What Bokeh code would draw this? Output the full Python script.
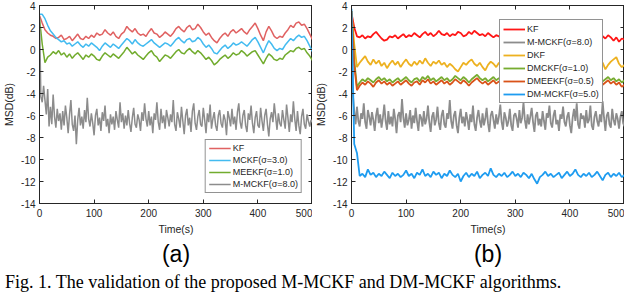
import numpy as np
from bokeh.plotting import figure
from bokeh.models import LinearAxis, FixedTicker, Legend, LegendItem, Title, Div, Range1d
from bokeh.layouts import row, column
from bokeh.embed import file_html
from bokeh.resources import INLINE

# ---------------- data ----------------
x_ticks = [0, 100, 200, 300, 400, 500]
y_ticks = [-14, -12, -10, -8, -6, -4, -2, 0, 2, 4]
y_tick_labels = ["-14", "-12", "-10", "-8", "-6", "-4", "-2", "0", "2", "4"]
x_tick_labels = ["0", "100", "200", "300", "400", "500"]

# panel (a), sampled every 5 s
a_kf = [3.1, 2.4, 1.8, 1.5, 1.3, 1.2, 1.0, 1.1, 1.3, 0.9,
        1.0, 1.2, 0.8, 1.1, 1.4, 1.0, 0.9, 1.2, 1.0, 1.3,
        1.1, 1.5, 1.3, 1.4, 1.8, 1.5, 1.3, 1.6, 1.2, 1.0,
        1.4, 1.6, 2.1, 1.8, 1.6, 1.9, 1.5, 1.3, 1.4, 1.2,
        1.6, 1.9, 1.5, 1.4, 1.1, 1.3, 1.6, 1.4, 1.2, 1.5,
        1.9, 2.1, 1.8, 1.6, 2.0, 2.2, 1.8, 1.9, 2.3, 2.0,
        1.6, 1.3, 1.5, 1.1, 0.8, 0.6, 1.0, 1.3, 1.5, 1.2,
        1.6, 1.8, 1.5, 1.7, 1.9, 1.6, 1.4, 1.8, 2.1, 2.4,
        1.9, 1.3, 0.8, 1.6, 2.1, 1.7, 1.2, 1.0, 1.2, 1.1,
        1.5, 1.8, 2.2, 2.0, 2.4, 2.5, 2.2, 2.3, 1.9, 1.4,
        0.9]
a_mckf = [3.2, 3.2, 2.8, 2.2, 1.7, 1.4, 1.1, 0.9, 0.7, 0.8,
          0.5, 0.6, 0.3, 0.5, 0.7, 0.4, 0.2, 0.5, 0.3, 0.6,
          0.4, 0.2, -0.1, 0.3, 0.6, 0.4, 0.2, 0.5, 0.3, 0.1,
          0.4, 0.7, 1.0, 0.8, 0.5, 0.9, 0.6, 0.4, 0.3, 0.5,
          0.7, 0.9, 0.6, 0.4, 0.2, 0.4, 0.6, 0.5, 0.3, 0.6,
          0.9, 1.1, 0.8, 0.6, 0.9, 1.0, 0.7, 0.8, 1.1, 0.9,
          0.5, 0.2, 0.4, 0.1, -0.3, -0.4, -0.1, 0.2, 0.4, 0.1,
          0.3, 0.6, 0.4, 0.5, 0.7, 0.5, 0.3, 0.6, 0.9, 1.1,
          0.7, 0.2, -0.3, 0.3, 0.8, 0.5, 0.1, -0.1, 0.1, 0.0,
          0.4, 0.7, 1.0, 0.8, 1.1, 1.3, 1.1, 1.2, 0.8, 0.3,
          -0.2]
a_meekf = [2.8, 0.5, -1.2, -0.7, -0.5, -0.2, -0.4, -0.1, -0.5, -0.3,
           -0.7, -0.4, -0.8, -0.5, -0.3, -0.6, -0.9, -0.5, -0.7, -0.4,
           -0.6, -0.9, -1.0, -0.6, -0.3, -0.5, -0.7, -0.4, -0.6, -0.8,
           -0.5, -0.2, 0.2, -0.1, -0.4, -0.2, -0.5, -0.7, -0.9, -0.6,
           -0.3, -0.1, -0.5, -0.7, -1.1, -0.8, -0.5, -0.6, -0.8, -0.5,
           -0.2, 0.0, -0.3, -0.4, -0.1, 0.1, -0.2, -0.4, -0.1, -0.3,
           -0.6, -0.9, -0.7, -1.0, -1.4, -1.2, -0.9, -0.7, -0.5, -0.8,
           -0.6, -0.3, -0.5, -0.4, -0.1, -0.3, -0.6, -0.4, -0.2, -0.1,
           -0.5, -0.9, -1.3, -0.8, -0.4, -0.6, -0.9, -1.0, -0.8, -0.9,
           -0.5, -0.3, -0.1, -0.2, 0.1, 0.2, 0.0, 0.1, -0.3, -0.6,
           -1.0]
# sampled every 2.5 s
a_mmckf = [3.0, -4.3, -4.8, -3.3, -4.6, -5.9, -3.6, -7.0, -5.2, -6.8,
           -4.1, -6.1, -7.1, -5.4, -6.5, -5.8, -7.3, -5.6, -6.9, -5.1,
           -6.2, -7.6, -5.9, -4.6, -6.8, -7.4, -6.0, -8.6, -6.4, -5.3,
           -6.9, -6.1, -7.2, -5.5, -6.6, -4.4, -6.3, -7.0, -5.8, -6.7,
           -7.8, -6.0, -5.4, -6.9, -6.2, -7.4, -5.7, -6.5, -5.1, -7.0,
           -6.3, -7.6, -5.9, -6.8, -6.1, -7.3, -5.6, -6.4, -7.1, -4.8,
           -6.6, -5.8, -7.2, -6.0, -6.9, -5.5, -6.7, -7.5, -6.2, -5.3,
           -6.8, -7.1, -5.9, -6.4, -7.4, -5.7, -6.5, -4.9, -6.3, -7.0,
           -5.6, -6.9, -6.1, -7.6, -5.8, -6.4, -4.8, -6.6, -7.3, -5.4,
           -6.7, -6.0, -7.2, -5.5, -6.2, -7.0, -5.9, -6.6, -4.6, -6.8,
           -7.4, -5.7, -6.3, -7.1, -5.2, -6.5, -7.7, -6.0, -5.4, -6.9,
           -6.2, -7.5, -5.6, -4.9, -6.7, -7.3, -6.1, -5.5, -6.8, -7.0,
           -5.3, -6.4, -7.6, -5.8, -6.6, -5.0, -7.2, -6.3, -5.7, -6.9,
           -7.4, -6.0, -5.5, -6.7, -7.1, -5.9, -6.4, -7.8, -5.6, -6.2,
           -7.0, -5.4, -6.8, -6.1, -7.3, -5.7, -4.9, -6.6, -7.2, -6.0,
           -5.5, -6.9, -7.5, -5.8, -6.4, -5.1, -6.7, -7.6, -6.2, -5.6,
           -6.9, -7.1, -5.3, -6.5, -7.4, -6.0, -5.4, -6.8, -7.9, -6.3,
           -5.7, -6.6, -4.9, -6.1, -7.3, -5.8, -6.7, -7.0, -5.5, -6.4,
           -7.2, -5.0, -6.2, -7.5, -5.9, -6.6, -4.7, -6.3, -7.4, -5.6,
           -6.9, -7.7, -6.1, -5.4, -6.8, -7.2, -5.9, -6.5, -7.0, -6.4,
           -6.6]

# panel (b), sampled every 5 s
b_kf = [3.3, 2.0, 1.2, 1.1, 1.3, 1.0, 1.2, 1.1, 1.4, 1.6,
        1.3, 1.0, 0.8, 0.9, 1.2, 1.1, 1.3, 1.0, 1.2, 1.4,
        1.1, 1.3, 1.2, 1.5, 1.3, 1.1, 1.4, 1.6, 1.3, 1.5,
        1.2, 1.4, 1.7, 1.4, 1.3, 1.5, 1.2, 1.4, 1.3, 1.6,
        1.5, 1.2, 1.3, 1.6, 1.4, 1.7, 1.5, 1.3, 1.4, 1.2,
        1.5, 1.3, 1.1, 1.3, 1.2, 1.0, 1.2, 1.4, 1.1, 1.3,
        1.2, 1.5, 1.3, 1.1, 1.4, 1.2, 1.0, 1.3, 1.2, 1.5,
        1.3, 1.1, 1.2, 1.4, 1.3, 1.1, 1.3, 1.5, 1.2, 1.0,
        1.3, 1.6, 1.2, 1.4, 1.1, 1.3, 1.5, 1.2, 1.0, 1.3,
        1.1, 1.5, 1.2, 1.0, 1.3, 1.1, 0.8, 1.1, 0.7, 1.0,
        0.9]
b_dkf = [3.5, 0.5, -1.6, -1.2, -0.9, -0.6, -1.1, -1.4, -0.9, -1.3,
         -1.0, -1.5, -1.2, -1.7, -1.3, -1.0, -1.4, -1.1, -1.6, -1.2,
         -0.9, -1.3, -1.5, -1.1, -1.4, -1.0, -1.3, -0.8, -1.2, -1.5,
         -1.1, -1.3, -1.0, -1.4, -1.2, -1.6, -1.3, -1.5, -1.8, -2.0,
         -1.6, -1.2, -1.4, -1.1, -0.9, -1.3, -1.5, -1.2, -1.6, -1.9,
         -1.4, -1.1, -1.3, -1.6, -1.2, -1.5, -1.0, -1.3, -1.1, -1.5,
         -1.2, -1.4, -1.0, -1.3, -1.6, -1.2, -1.5, -1.1, -1.4, -1.7,
         -1.3, -1.0, -1.4, -1.2, -1.6, -1.3, -1.1, -1.5, -1.2, -1.7,
         -1.4, -1.1, -1.5, -1.3, -1.0, -1.4, -1.2, -1.6, -1.1, -0.8,
         -1.3, -1.5, -1.2, -1.8, -1.4, -1.1, -0.9, -0.7, -1.3, -1.6,
         -1.4]
b_dmckf = [3.5, -1.0, -3.4, -3.0, -2.7, -2.9, -2.6, -2.8, -3.0, -2.7,
           -2.5, -2.8, -2.6, -2.9, -2.7, -3.0, -2.8, -2.6, -2.9, -2.7,
           -2.5, -2.8, -3.0, -2.7, -2.6, -2.9, -2.5, -2.7, -2.4, -2.8,
           -2.6, -2.9, -2.7, -2.5, -2.8, -2.6, -2.9, -2.7, -2.4, -2.6,
           -2.8, -2.5, -2.7, -3.0, -2.7, -2.5, -2.3, -2.6, -2.8, -2.6,
           -2.9, -2.7, -2.5, -2.8, -2.6, -2.9, -2.7, -2.5, -2.8, -2.6,
           -2.4, -2.7, -2.9, -2.6, -2.8, -2.5, -2.7, -3.0, -2.7, -2.5,
           -2.8, -2.6, -2.9, -2.7, -2.5, -2.8, -2.6, -2.9, -2.7, -2.5,
           -2.8, -2.6, -2.4, -2.7, -2.9, -2.6, -2.8, -2.5, -2.7, -3.0,
           -2.8, -2.6, -2.9, -2.7, -2.5, -2.8, -2.6, -2.9, -2.7, -3.0,
           -2.8]
b_dmeekf = [3.5, -1.4, -3.7, -3.3, -3.0, -3.2, -2.9, -3.1, -3.4, -3.0,
            -2.8, -3.1, -2.9, -3.2, -3.0, -3.3, -3.1, -2.9, -3.2, -3.0,
            -2.8, -3.1, -3.3, -3.0, -2.9, -3.2, -2.8, -3.0, -2.7, -3.1,
            -2.9, -3.2, -3.0, -2.8, -3.1, -2.9, -3.2, -3.0, -2.7, -2.9,
            -3.1, -2.8, -3.0, -3.3, -3.0, -2.8, -2.6, -2.9, -3.1, -2.9,
            -3.2, -3.0, -2.8, -3.1, -2.9, -3.2, -3.0, -2.8, -3.1, -2.9,
            -2.7, -3.0, -3.2, -2.9, -3.1, -2.8, -3.0, -3.3, -3.0, -2.8,
            -3.1, -2.9, -3.2, -3.0, -2.8, -3.1, -2.9, -3.2, -3.0, -2.8,
            -3.1, -2.9, -2.7, -3.0, -3.2, -2.9, -3.1, -2.8, -3.0, -3.3,
            -3.1, -2.9, -3.2, -3.0, -2.8, -3.1, -2.9, -3.2, -3.0, -3.4,
            -3.2]
b_dmmckf = [3.7, -8.6, -9.4, -11.5, -11.3, -11.6, -10.9, -11.4, -11.2, -11.6,
            -11.3, -11.5, -11.1, -11.4, -11.7, -11.2, -11.5, -11.3, -11.6, -11.4,
            -11.0, -11.5, -11.3, -11.7, -11.2, -11.4, -10.9, -11.5, -11.3, -11.6,
            -11.1, -11.4, -11.2, -11.7, -11.3, -11.5, -11.0, -11.4, -11.6, -11.3,
            -12.0, -11.5, -11.2, -11.6, -11.3, -11.5, -11.1, -11.7, -11.4, -11.2,
            -11.5, -10.8, -11.4, -11.6, -11.3, -11.5, -11.2, -11.6, -11.4, -11.1,
            -11.5, -11.3, -11.6, -11.2, -11.4, -11.7, -11.3, -11.8, -12.2, -11.6,
            -11.4, -11.1, -11.5, -11.3, -11.6, -11.4, -11.2, -11.7, -11.4, -11.1,
            -11.5, -11.3, -10.9, -11.4, -11.6, -11.3, -11.5, -11.2, -11.6, -11.4,
            -11.1, -11.5, -11.9, -11.4, -11.2, -11.6, -11.3, -11.5, -11.2, -11.6,
            -11.4]
# sampled every 2.5 s
b_mmckf = [3.2, -4.1, -5.6, -6.8, -5.2, -6.5, -7.0, -5.8, -6.3, -4.9,
           -6.6, -7.2, -5.5, -6.1, -6.9, -5.7, -6.4, -7.4, -6.0, -5.3,
           -6.7, -5.9, -7.1, -6.2, -5.0, -6.5, -7.3, -5.6, -6.8, -6.1,
           -7.0, -5.4, -6.3, -7.6, -6.0, -5.7, -6.6, -4.5, -6.2, -7.1,
           -5.8, -6.9, -6.4, -5.5, -7.2, -6.0, -6.7, -5.3, -6.5, -7.4,
           -5.9, -6.2, -7.0, -5.6, -6.8, -6.3, -5.1, -6.6, -7.5, -6.1,
           -5.7, -6.9, -6.4, -5.2, -6.7, -7.3, -6.0, -5.5, -6.8, -7.1,
           -5.8, -6.3, -4.6, -6.5, -7.2, -6.0, -5.6, -6.9, -7.6, -6.2,
           -5.4, -6.7, -6.1, -7.0, -5.7, -6.4, -7.3, -5.9, -6.6, -5.1,
           -6.8, -7.4, -6.2, -5.5, -6.5, -7.1, -5.8, -6.9, -6.3, -5.3,
           -6.7, -7.5, -6.0, -5.6, -6.4, -7.2, -5.9, -6.8, -6.1, -5.0,
           -6.6, -7.3, -5.7, -6.2, -7.0, -6.5, -5.4, -6.9, -7.4, -6.0,
           -5.8, -6.3, -7.1, -5.5, -6.7, -6.2, -4.8, -6.4, -7.2, -5.9,
           -6.8, -6.1, -5.3, -6.6, -7.5, -6.0, -5.7, -6.9, -6.3, -7.0,
           -5.6, -6.5, -7.3, -5.8, -6.2, -5.1, -6.7, -7.1, -6.0, -5.5,
           -6.8, -6.4, -7.4, -5.9, -6.3, -5.2, -6.6, -7.0, -6.1, -5.7,
           -6.9, -7.6, -6.2, -5.4, -6.5, -4.9, -6.8, -7.2, -5.8, -6.3,
           -6.0, -7.1, -5.5, -6.7, -6.4, -5.1, -6.9, -7.3, -6.1, -5.6,
           -6.5, -7.0, -5.9, -6.6, -4.7, -6.2, -7.4, -6.0, -5.7, -6.8,
           -7.1, -5.4, -6.4, -6.9, -5.8, -6.3, -7.2, -6.1, -5.6, -6.7,
           -7.0]

panel_a_series = [
    ("KF", a_kf, "#e06262"),
    ("MCKF(σ=3.0)", a_mckf, "#43bbf0"),
    ("MEEKF(σ=1.0)", a_meekf, "#72ac2e"),
    ("M-MCKF(σ=8.0)", a_mmckf, "#8c8c8c"),
]
panel_b_series = [
    ("KF", b_kf, "#ff1616"),
    ("M-MCKF(σ=8.0)", b_mmckf, "#8c8c8c"),
    ("DKF", b_dkf, "#edb120"),
    ("DMCKF(σ=1.0)", b_dmckf, "#77ac30"),
    ("DMEEKF(σ=0.5)", b_dmeekf, "#d95319"),
    ("DM-MCKF(σ=5.0)", b_dmmckf, "#1e9cf0"),
]

caption = "Fig. 1.  The validation of the proposed M-MCKF and DM-MCKF algorithms."

AX = "#262626"
FONT = "Liberation Sans"
FIG_H = 267


def style_axis(ax, labels=True, standoff=3):
    ax.major_tick_in = 4
    ax.major_tick_out = 0
    ax.minor_tick_line_color = None
    ax.axis_line_color = AX
    ax.axis_line_width = 1
    ax.major_tick_line_color = AX
    ax.major_label_text_font = FONT
    ax.major_label_text_font_size = "10px"
    ax.major_label_text_color = AX
    ax.major_label_standoff = standoff
    ax.axis_label_text_font = FONT
    ax.axis_label_text_font_size = "10.5px"
    ax.axis_label_text_font_style = "normal"
    ax.axis_label_text_color = AX
    ax.axis_label_standoff = 3
    if not labels:
        ax.major_label_text_font_size = "1px"
        ax.major_label_text_color = None
        ax.major_label_standoff = 0


def make_panel(series, tag, width, border_left_min, border_right, lw):
    p = figure(width=width, height=FIG_H, output_backend="svg", toolbar_location=None,
               x_range=Range1d(0, 500), y_range=Range1d(-14, 4),
               min_border_left=border_left_min, min_border_right=border_right,
               min_border_top=5, min_border_bottom=0,
               background_fill_color="white", border_fill_color="white",
               outline_line_color=AX)
    p.grid.visible = False
    p.xaxis.ticker = FixedTicker(ticks=x_ticks)
    p.yaxis.ticker = FixedTicker(ticks=y_ticks)
    p.xaxis.major_label_overrides = dict(zip(x_ticks, x_tick_labels))
    p.yaxis.major_label_overrides = dict(zip(y_ticks, y_tick_labels))
    p.xaxis.axis_label = "Time(s)"
    p.yaxis.axis_label = "MSD(dB)"
    style_axis(p.xaxis[0], standoff=5)
    style_axis(p.yaxis[0], standoff=4)
    top = LinearAxis(ticker=FixedTicker(ticks=x_ticks))
    right = LinearAxis(ticker=FixedTicker(ticks=y_ticks))
    style_axis(top, labels=False)
    style_axis(right, labels=False)
    p.add_layout(top, "above")
    p.add_layout(right, "right")

    items = []
    for name, vals, color in series:
        xs = np.linspace(0, 500, len(vals))
        r = p.line(xs, vals, line_color=color, line_width=lw)
        items.append(LegendItem(label=name, renderers=[r]))
    leg = Legend(items=items)
    leg.label_text_font = FONT
    leg.label_text_font_size = "9px"
    leg.label_text_color = AX
    leg.glyph_width = 22
    leg.glyph_height = 10
    leg.label_height = 10
    leg.spacing = 2
    leg.padding = 3
    leg.label_standoff = 2
    leg.border_line_color = AX
    leg.border_line_width = 1
    leg.background_fill_color = "white"
    leg.background_fill_alpha = 1
    p.add_layout(leg)

    t = Title(text=tag, align="center", text_font=FONT, text_font_size="23px",
              text_font_style="normal", text_color="black", standoff=2)
    p.add_layout(t, "below")
    return p, leg


fa, la = make_panel(panel_a_series, "(a)", 312, 20, 0, 1.5)
la.location = "bottom_right"
la.margin = 10
fb, lb = make_panel(panel_b_series, "(b)", 312, 20, 0, 1.8)
lb.location = (148, 100)
lb.label_height = 11

cap = Div(text=caption, width=624, height=21,
          styles={"font-family": "Liberation Serif", "font-size": "18px",
                  "white-space": "nowrap", "overflow": "hidden", "color": "black",
                  "line-height": "21px"})

layout = column(row(fa, fb), cap)
open("out.html", "w").write(file_html(layout, INLINE))
